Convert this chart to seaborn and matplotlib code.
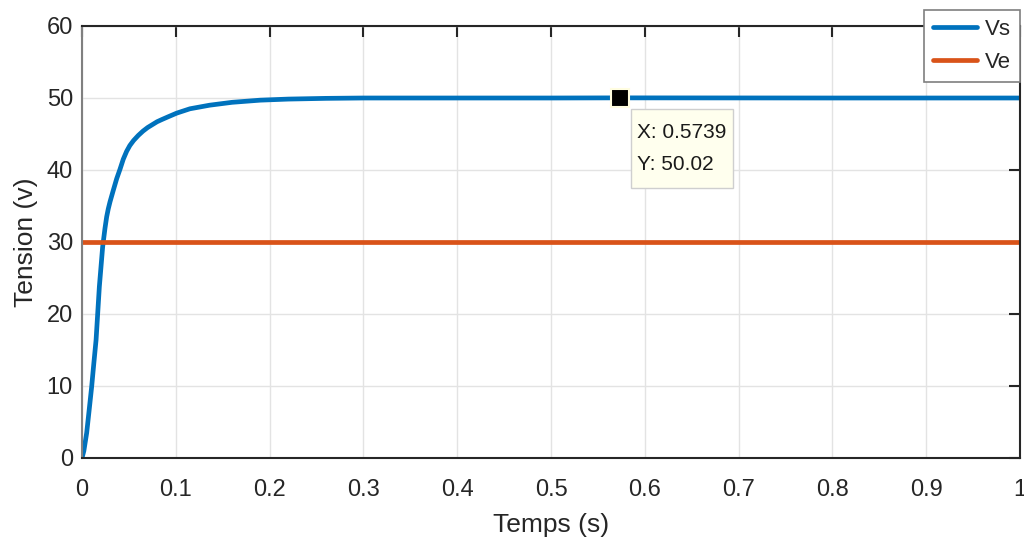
import numpy as np
import pandas as pd
import matplotlib
matplotlib.use('Agg')
import matplotlib.pyplot as plt
import seaborn as sns

# Vs response, values
t_vs = [0, 0.002, 0.005, 0.0075, 0.0103, 0.0125, 0.015, 0.0185, 0.022, 0.0245,
        0.0263, 0.028, 0.0299, 0.0334, 0.037, 0.0405, 0.044, 0.0476, 0.051, 0.055,
        0.06, 0.065, 0.07, 0.075, 0.08, 0.085, 0.092, 0.101, 0.115, 0.136, 0.16,
        0.19, 0.22, 0.26, 0.3, 0.5, 0.5739, 0.8, 1.0]
vs = [0, 1.0, 3.5, 6.5, 9.9, 13.0, 16.4, 23.8, 29.3, 31.9,
      33.5, 34.6, 35.6, 37.2, 38.8, 40.1, 41.5, 42.6, 43.4, 44.1,
      44.8, 45.4, 45.9, 46.3, 46.7, 47.0, 47.4, 47.9, 48.5, 49.0, 49.4,
      49.7, 49.85, 49.95, 50.0, 50.0, 50.02, 50.0, 50.0]

# Ve constant input
t_ve = [0, 1.0]
ve = [30, 30]

# data tip
tip_x = 0.5739
tip_y = 50.02

df_vs = pd.DataFrame({'t': t_vs, 'v': vs})
df_ve = pd.DataFrame({'t': t_ve, 'v': ve})

sns.set_style('white')
plt.rcParams['font.family'] = ['Liberation Sans', 'DejaVu Sans']

fig = plt.figure(figsize=(10.24, 5.42), dpi=100)
ax = fig.add_axes([82 / 1024, 84 / 542, 938 / 1024, 432 / 542])

sns.lineplot(data=df_vs, x='t', y='v', color='#0072BD', lw=3.4, ax=ax, label='Vs')
sns.lineplot(data=df_ve, x='t', y='v', color='#D95319', lw=3.4, ax=ax, label='Ve')

ax.set_xlim(0, 1)
ax.set_ylim(0, 60)
ax.set_xticks(np.arange(0, 1.01, 0.1))
ax.set_xticklabels([f'{v:g}' for v in np.round(np.arange(0, 1.01, 0.1), 1)])
ax.set_yticks(range(0, 61, 10))
ax.grid(True, color='#e3e3e3', lw=1)
ax.tick_params(direction='in', length=8, width=1.5, top=True, right=True,
               labelsize=17, colors='#262626')
ax.tick_params(axis='x', pad=15)
ax.tick_params(axis='y', pad=6.5)
for side in ['top', 'bottom', 'right']:
    ax.spines[side].set_color('#262626')
    ax.spines[side].set_linewidth(1.5)
ax.spines['left'].set_color('#808080')
ax.spines['left'].set_linewidth(1.5)

ax.set_xlabel('Temps (s)', fontsize=19, color='#262626', labelpad=9)
ax.set_ylabel('Tension (v)', fontsize=19, color='#262626', labelpad=6)

# data tip marker and box
ax.plot([tip_x], [tip_y], marker='s', ms=13, color='black', mec='#fffde0', mew=1.5, zorder=5)
ax.annotate(f'X: {tip_x}\nY: {tip_y}', xy=(tip_x, tip_y), xytext=(17, -25),
            textcoords='offset pixels', ha='left', va='top', fontsize=15,
            color='#1a1a1a', linespacing=1.85,
            bbox=dict(boxstyle='square,pad=0.32', mutation_aspect=2.1,
                      fc='#ffffee', ec='#cfcfcf', lw=1))

leg = ax.legend(loc='upper right', bbox_to_anchor=(1.0, 1.037), borderaxespad=0,
                fontsize=16, handlelength=2.0, handletextpad=0.35, labelspacing=0.55,
                borderpad=0.4, fancybox=False, framealpha=1, edgecolor='#7f7f7f')
leg.get_frame().set_linewidth(1.2)

fig.savefig('out.png', dpi=100)
